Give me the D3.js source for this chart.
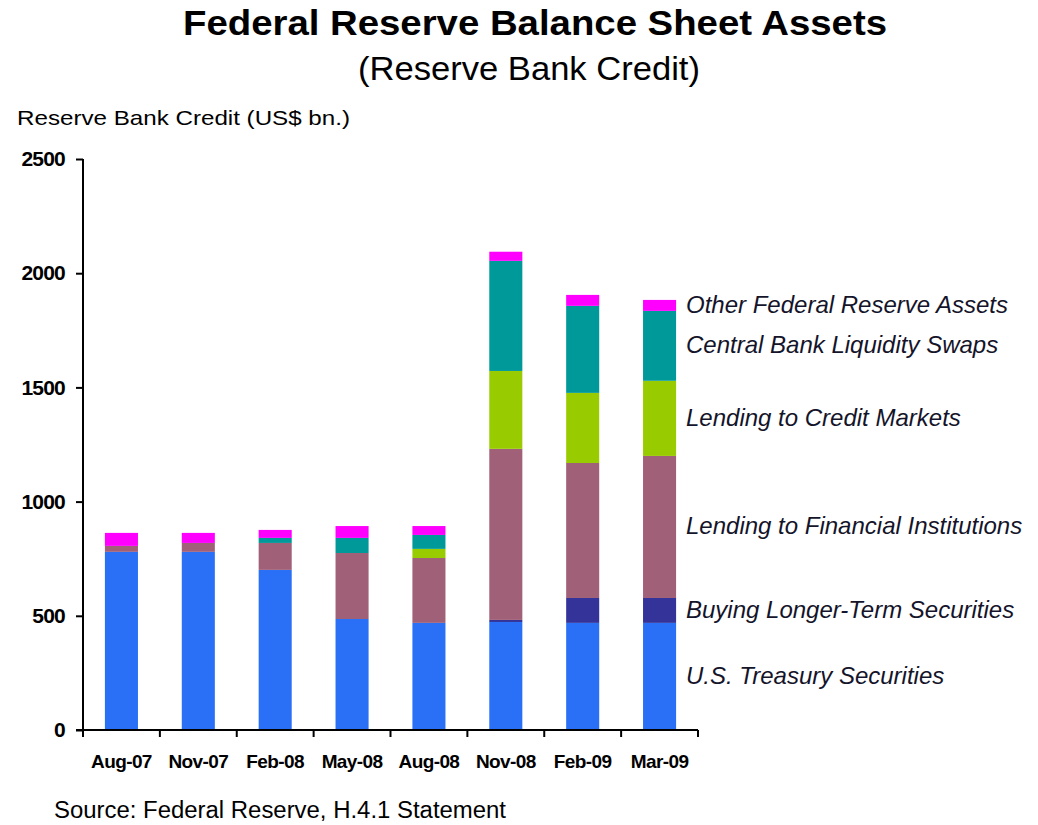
<!DOCTYPE html>
<html>
<head>
<meta charset="utf-8">
<script src="https://cdn.jsdelivr.net/npm/d3@7"></script>
<style>
  body { margin: 0; background: #fff; }
  text { font-family: "Liberation Sans", Arial, sans-serif; }
</style>
</head>
<body>
<div id="chart"></div>
<script>
//Dates on the x axis
var months = ["Aug-07", "Nov-07", "Feb-08", "May-08", "Aug-08", "Nov-08", "Feb-09", "Mar-09"];

//Values, US$ bn.
var treasury = [780, 780, 701, 486, 469, 473, 469, 469];
var longerTerm = [0, 0, 0, 0, 0, 9, 109, 109];
var financialInst = [26, 39, 118, 289, 284, 749, 591, 622];
var creditMarkets = [0, 0, 0, 0, 40, 341, 307, 329];
var liquiditySwaps = [0, 0, 22, 66, 61, 482, 381, 306];
var otherAssets = [57, 44, 35, 52, 39, 40, 48, 48];

var seriesNames = ["U.S. Treasury Securities", "Buying Longer-Term Securities",
	"Lending to Financial Institutions", "Lending to Credit Markets",
	"Central Bank Liquidity Swaps", "Other Federal Reserve Assets"];
var seriesColors = ["#2a70f7", "#333399", "#a06077", "#99cc00", "#009999", "#ff00ff"];
var yTicks = [0, 500, 1000, 1500, 2000, 2500];

var allSeries = [treasury, longerTerm, financialInst, creditMarkets, liquiditySwaps, otherAssets];

//Build rows for the stack
var rows = months.map(function(m, i){
	var r = {month: m};
	seriesNames.forEach(function(s, k){ r[s] = allSeries[k][i]; });
	return r;
});

var width = 1038, height = 825;
var margin = {top: 159, left: 83};

var svg = d3.select("#chart")
	.append("svg")
	.attr("width", width)
	.attr("height", height);

var x = d3.scaleBand()
	.domain(months)
	.range([margin.left, 698])
	.paddingInner(0.57)
	.paddingOuter(0.285);

var y = d3.scaleLinear()
	.domain([0, 2500])
	.range([730, margin.top]);

var stacked = d3.stack().keys(seriesNames)(rows);

//Bars
svg.selectAll(".layer")
	.data(stacked)
	.enter()
	.append("g")
	.attr("fill", function(d, i){ return seriesColors[i]; })
	.selectAll("rect")
	.data(function(d){ return d; })
	.enter()
	.append("rect")
	.attr("x", function(d){ return x(d.data.month); })
	.attr("y", function(d){ return y(d[1]); })
	.attr("width", x.bandwidth())
	.attr("height", function(d){ return y(d[0]) - y(d[1]); });

//Y axis
var yAxis = svg.append("g")
	.attr("transform", "translate(" + margin.left + ",0)")
	.call(d3.axisLeft(y).tickValues(yTicks).tickFormat(d3.format("d")).tickSize(7).tickPadding(11));
yAxis.selectAll("text")
	.style("font-size", "21px")
	.style("font-weight", "bold")
	.style("letter-spacing", "-0.8px")
	.style("fill", "#000");
yAxis.select(".domain").attr("stroke-width", 2).attr("d", "M0," + y(2500) + "V" + y(0));
yAxis.selectAll("line").attr("stroke-width", 2);

//X axis, ticks sit between the bars
var gap = (x.step() - x.bandwidth()) / 2;
var xAxis = svg.append("g")
	.attr("transform", "translate(0," + y(0) + ")");
xAxis.append("line")
	.attr("x1", margin.left - 7).attr("x2", 698)
	.attr("stroke", "#000").attr("stroke-width", 2);
xAxis.selectAll(".xt")
	.data(months)
	.enter()
	.append("line")
	.attr("x1", function(d){ return x(d) + x.bandwidth() + gap; })
	.attr("x2", function(d){ return x(d) + x.bandwidth() + gap; })
	.attr("y1", 0).attr("y2", 7)
	.attr("stroke", "#000").attr("stroke-width", 2);
xAxis.append("line")
	.attr("x1", margin.left).attr("x2", margin.left)
	.attr("y1", 0).attr("y2", 7)
	.attr("stroke", "#000").attr("stroke-width", 2);
xAxis.selectAll(".xl")
	.data(months)
	.enter()
	.append("text")
	.attr("x", function(d){ return x(d) + x.bandwidth() / 2; })
	.attr("y", 38)
	.attr("text-anchor", "middle")
	.style("font-size", "19px")
	.style("font-weight", "bold")
	.style("letter-spacing", "-0.6px")
	.text(function(d){ return d; });

//Labels next to the last bar, at the middle of each segment
var last = months.length - 1;
svg.selectAll(".legend")
	.data(stacked)
	.enter()
	.append("text")
	.attr("x", 686)
	.attr("y", function(d){ return y((d[last][0] + d[last][1]) / 2); })
	.attr("dy", "0.3em")
	.style("font-size", "24px")
	.style("font-style", "italic")
	.style("fill", "#14142a")
	.text(function(d){ return d.key; });

//Titles
svg.append("text")
	.attr("x", 535).attr("y", 35)
	.attr("text-anchor", "middle")
	.attr("textLength", 704)
	.attr("lengthAdjust", "spacingAndGlyphs")
	.style("font-size", "35px")
	.style("font-weight", "bold")
	.text("Federal Reserve Balance Sheet Assets");
svg.append("text")
	.attr("x", 529).attr("y", 80)
	.attr("text-anchor", "middle")
	.attr("textLength", 342)
	.attr("lengthAdjust", "spacingAndGlyphs")
	.style("font-size", "33px")
	.text("(Reserve Bank Credit)");
svg.append("text")
	.attr("x", 17).attr("y", 125)
	.attr("textLength", 333)
	.attr("lengthAdjust", "spacingAndGlyphs")
	.style("font-size", "21px")
	.text("Reserve Bank Credit (US$ bn.)");
svg.append("text")
	.attr("x", 54).attr("y", 818)
	.attr("textLength", 452)
	.attr("lengthAdjust", "spacingAndGlyphs")
	.style("font-size", "23px")
	.text("Source: Federal Reserve, H.4.1 Statement");
</script>
</body>
</html>
